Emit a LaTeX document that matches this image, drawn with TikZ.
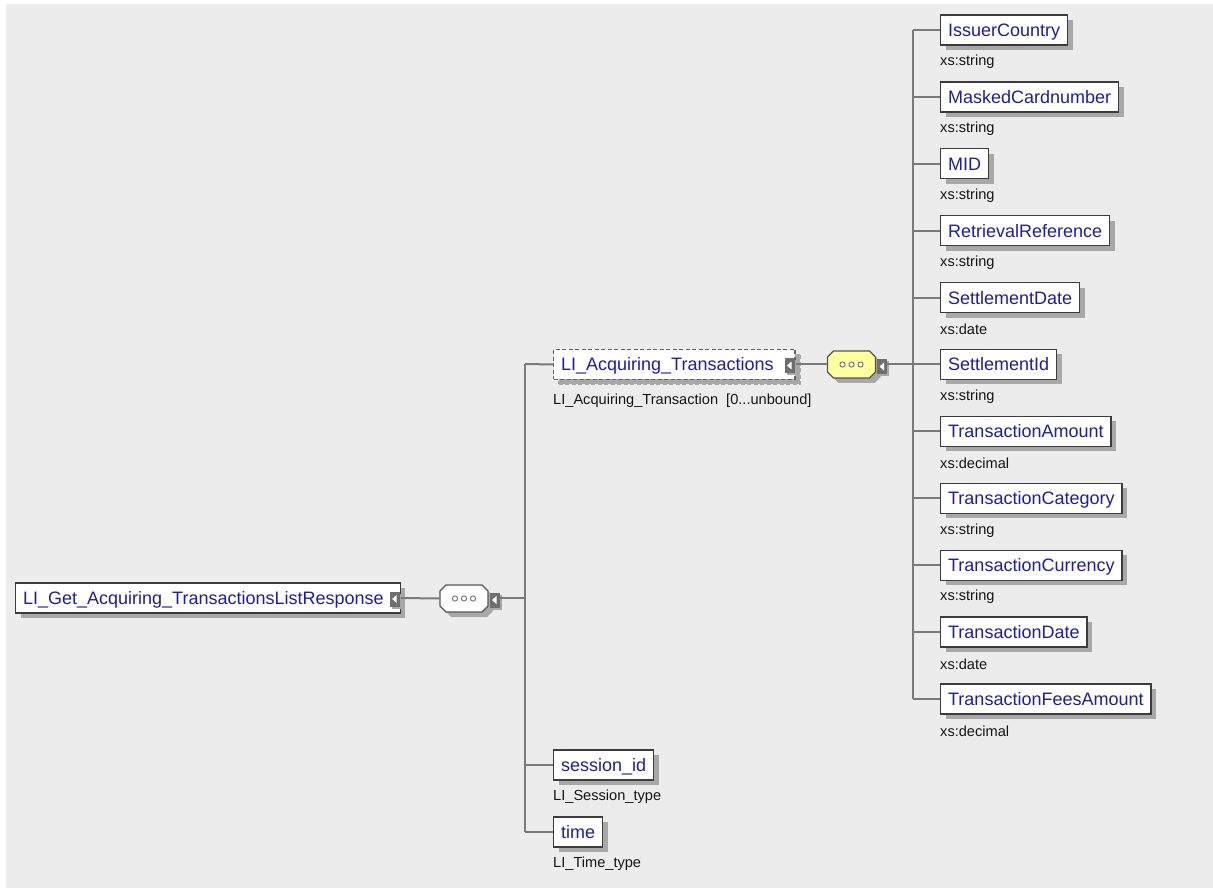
\documentclass[tikz,border=0pt]{standalone}
\usepackage{fontspec}
\setmainfont{Liberation Sans}
\usetikzlibrary{shadows,calc}
\definecolor{bg}{HTML}{ECECEC}
\definecolor{namecol}{HTML}{1E1E9E}
\definecolor{labcol}{HTML}{151515}
\definecolor{linecol}{HTML}{7A7A7A}
\definecolor{boxborder}{HTML}{3C3C3C}
\definecolor{shadowcol}{HTML}{A8A8A8}
\definecolor{btncol}{HTML}{6E6E6E}
\definecolor{seqyellow}{HTML}{FFFF9E}
\definecolor{octborder}{HTML}{555555}
\definecolor{dotcol}{HTML}{707070}
\newcommand{\octshape}[3]{%
  \path[#1] (#2-24,#3-7.5) -- (#2-18,#3-13.5) -- (#2+18,#3-13.5) -- (#2+24,#3-7.5)
    -- (#2+24,#3+7.5) -- (#2+18,#3+13.5) -- (#2-18,#3+13.5) -- (#2-24,#3+7.5) -- cycle;}
\newcommand{\threedots}[2]{%
  \foreach \dx in {-9,0,9} {\draw[dotcol, line width=0.9pt, fill=white] (#1+\dx,#2) circle (2.6pt);}}
\begin{document}
\begin{tikzpicture}[x=1pt,y=-1pt,
  conn/.style={draw=linecol, line width=2pt},
  elem/.style={draw=boxborder, line width=1.3pt, fill=white, minimum height=30pt,
    inner xsep=7.5pt, inner ysep=0pt, anchor=west, text=namecol,
    text height=13pt, text depth=0pt, font=\fontsize{18}{20}\selectfont,
    general shadow={fill=shadowcol, shadow xshift=5pt, shadow yshift=-5pt}},
  optelem/.style={elem, draw=boxborder!80, dash pattern=on 4pt off 2.5pt,
    general shadow={draw=shadowcol, line width=1.3pt, dash pattern=on 4pt off 2.5pt,
      shadow xshift=5pt, shadow yshift=-5pt}},
  lab/.style={anchor=west, inner sep=0pt, text=labcol, font=\fontsize{14.6}{16}\selectfont},
  btn/.style={fill=btncol, minimum width=10pt, minimum height=15pt, inner sep=0pt,
    general shadow={fill=shadowcol, shadow xshift=2pt, shadow yshift=-2pt}},
  hold/.style={minimum width=48pt, inner sep=0pt, minimum height=27pt}
]
\useasboundingbox (0,0) rectangle (1213,890);
\fill[white] (0,0) rectangle (1213,890);
\fill[bg] (6,4) rectangle (1213,888);

% ---------- root ----------
\node[elem] (root) at (15,598) {LI\_Get\_Acquiring\_TransactionsListResponse\hspace*{9pt}};
\node[btn, anchor=east] (rootbtn) at ([xshift=-1pt,yshift=-1pt]root.east) {};
\fill[white] ($(rootbtn.center)+(-2.5,0)$) -- ($(rootbtn.center)+(2,-4)$) -- ($(rootbtn.center)+(2,4)$) -- cycle;

% ---------- root sequence ----------
\octshape{fill=shadowcol}{469}{603.5}
\octshape{fill=white, draw=octborder, line width=1.2pt}{464}{598.5}
\node[hold] (seqA) at (464,598.5) {};
\threedots{464}{598.5}
\node[btn] (seqAbtn) at (494.5,600) {};
\fill[white] ($(seqAbtn.center)+(-2.5,0)$) -- ($(seqAbtn.center)+(2,-4)$) -- ($(seqAbtn.center)+(2,4)$) -- cycle;
\draw[conn] (root.east) -- (seqA.west);

% ---------- left trunk ----------
\coordinate (tA) at (525,598);
\coordinate (tTop) at (525,364);
\coordinate (tS) at (525,765);
\coordinate (tBot) at (525,832);
\draw[conn] (seqAbtn.east |- tA) -- (tA);
\draw[conn] (tTop) -- (tBot);

% ---------- LI_Acquiring_Transactions ----------
\node[optelem] (acq) at (553,364.5) {LI\_Acquiring\_Transactions\hspace*{14pt}};
\node[btn, anchor=east] (acqbtn) at ([xshift=-1pt,yshift=-1pt]acq.east) {};
\fill[white] ($(acqbtn.center)+(-2.5,0)$) -- ($(acqbtn.center)+(2,-4)$) -- ($(acqbtn.center)+(2,4)$) -- cycle;
\node[lab] (acqlab) at (553,401) {LI\_Acquiring\_Transaction\hspace{0.55em}[0...unbound]};
\draw[conn] (tTop) -- (acq.west);

% ---------- session_id / time ----------
\node[elem] (sess) at (553,765) {session\_id};
\node[lab] (sesslab) at (553,797) {LI\_Session\_type};
\draw[conn] (tS) -- (sess.west);
\node[elem] (time) at (553,832) {time};
\node[lab] (timelab) at (553,864) {LI\_Time\_type};
\draw[conn] (tBot) -- (time.west);

% ---------- inner sequence ----------
\octshape{fill=shadowcol}{856.5}{369.5}
\octshape{fill=seqyellow, draw=octborder, line width=1.2pt}{851.5}{364.5}
\node[hold] (seqB) at (851.5,364.5) {};
\threedots{851.5}{364.5}
\node[btn] (seqBbtn) at (882,366.5) {};
\fill[white] ($(seqBbtn.center)+(-2.5,0)$) -- ($(seqBbtn.center)+(2,-4)$) -- ($(seqBbtn.center)+(2,4)$) -- cycle;
\draw[conn] (acq.east) -- (seqB.west);

\coordinate (rM) at (913,364.5);
\coordinate (rTop) at (913,30);
\coordinate (rBot) at (913,699);
\draw[conn] (seqBbtn.east |- rM) -- (rM);
\draw[conn] (rTop) -- (rBot);

% ---------- children ----------
\foreach \n/\t [count=\i from 0] in {IssuerCountry/string, MaskedCardnumber/string, MID/string,
   RetrievalReference/string, SettlementDate/date, SettlementId/string, TransactionAmount/decimal,
   TransactionCategory/string, TransactionCurrency/string, TransactionDate/date,
   TransactionFeesAmount/decimal} {
  \pgfmathsetmacro\yy{30+66.9*\i}
  \coordinate (b\i) at (913,\yy);
  \node[elem] (c\i) at (940,\yy) {\n};
  \node[lab] (l\i) at (940,\yy+32) {xs:\t};
  \draw[conn] (b\i) -- (c\i.west);
}
\end{tikzpicture}
\end{document}
